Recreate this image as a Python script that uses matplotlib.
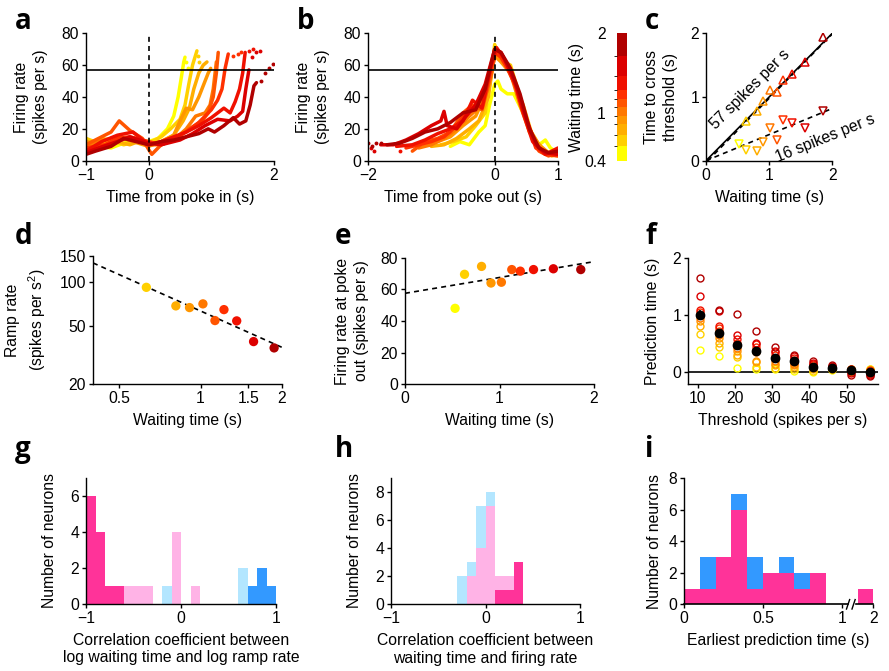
import numpy as np
import matplotlib
matplotlib.use("Agg")
import matplotlib.pyplot as plt
from matplotlib.colors import ListedColormap, BoundaryNorm
import matplotlib.colorbar as mcolorbar

FS = 11.3
plt.rcParams['font.family'] = ['Liberation Sans', 'DejaVu Sans']
plt.rcParams['mathtext.fontset'] = 'custom'
plt.rcParams['mathtext.rm'] = 'Liberation Sans'
plt.rcParams['font.size'] = FS
plt.rcParams['axes.linewidth'] = 1.0

# ---------------- data ----------------
waiting = [0.53, 0.63, 0.81, 0.91, 1.02, 1.13, 1.22, 1.36, 1.57, 1.86]
wt_colors = ['#ffff00', '#ffd000', '#ffae00', '#ff9600', '#ff7800',
             '#ff5500', '#ff3000', '#f01000', '#dc0000', '#b00000']
cbar_bounds = [0.4, 0.58, 0.72, 0.86, 0.965, 1.075, 1.175, 1.29, 1.465, 1.715, 2.0]
threshold = 57

# panel a: firing rate aligned to poke in
a_x = [
    [-1, -0.8, -0.6, -0.4, -0.2, 0, 0.15, 0.3, 0.4, 0.47, 0.52, 0.56, 0.58],
    [-1, -0.8, -0.6, -0.4, -0.2, 0, 0.2, 0.35, 0.5, 0.58, 0.64, 0.7, 0.77],
    [-1, -0.75, -0.5, -0.3, -0.1, 0, 0.2, 0.4, 0.55, 0.65, 0.72, 0.8, 0.87, 0.93],
    [-1, -0.7, -0.5, -0.25, 0, 0.2, 0.4, 0.5, 0.6, 0.7, 0.8, 0.9, 0.95, 0.99],
    [-1, -0.8, -0.5, -0.2, 0, 0.2, 0.4, 0.6, 0.75, 0.9, 0.98, 1.03, 1.08],
    [-1, -0.8, -0.6, -0.47, -0.3, -0.1, 0, 0.05, 0.2, 0.45, 0.65, 0.85, 0.95, 1.03, 1.08, 1.11],
    [-1, -0.7, -0.5, -0.3, 0, 0.2, 0.4, 0.6, 0.8, 1.0, 1.1, 1.17, 1.22, 1.27],
    [-1, -0.75, -0.5, -0.25, 0, 0.2, 0.4, 0.6, 0.8, 1.0, 1.2, 1.3, 1.38, 1.45, 1.5, 1.54],
    [-1, -0.8, -0.5, -0.3, 0, 0.2, 0.5, 0.7, 0.9, 1.1, 1.3, 1.42, 1.5, 1.55, 1.6],
    [-1, -0.85, -0.6, -0.4, -0.2, 0, 0.2, 0.4, 0.6, 0.8, 0.95, 1.05, 1.2, 1.35, 1.45, 1.55, 1.62, 1.68, 1.72],
]
a_y = [
    [12, 9, 8, 11, 13, 12, 14, 20, 28, 40, 52, 62, 65],
    [14, 11, 13, 10, 12, 11, 15, 20, 26, 35, 48, 60, 69],
    [10, 14, 12, 10, 13, 10, 12, 16, 25, 33, 45, 55, 60, 62],
    [12, 10, 15, 12, 9, 12, 16, 25, 33, 32, 40, 50, 55, 58],
    [8, 12, 15, 14, 10, 10, 13, 20, 28, 30, 35, 45, 62],
    [10, 14, 18, 25, 19, 14, 7, 4, 10, 14, 20, 25, 30, 40, 55, 68],
    [8, 10, 14, 15, 12, 10, 14, 18, 24, 32, 38, 45, 58, 67],
    [6, 12, 16, 18, 10, 12, 15, 18, 22, 27, 33, 30, 37, 45, 55, 68],
    [5, 8, 12, 15, 11, 10, 13, 17, 22, 26, 25, 28, 31, 45, 57],
    [4, 6, 9, 14, 12, 10, 12, 13, 15, 17, 20, 18, 22, 27, 23, 25, 35, 47, 49],
]
a_dot_x = [[0.6, 0.62], [0.79, 0.81], [], [], [], [],
           [1.35, 1.42, 1.47], [1.6, 1.66], [1.65, 1.72, 1.77], [1.8, 1.86, 1.92, 1.98]]
a_dot_y = [[62, 58], [66, 62], [], [], [], [],
           [66, 67, 68], [69, 70], [65, 68, 69], [50, 55, 58, 61]]

# panel b: firing rate aligned to poke out
b_x = [
    [-0.7, -0.55, -0.4, -0.25, -0.15, -0.08, 0, 0.05, 0.1, 0.2, 0.3, 0.45, 0.6, 0.7, 0.8, 0.88, 0.95, 1.0],
    [-0.85, -0.65, -0.45, -0.3, -0.15, -0.05, 0, 0.05, 0.15, 0.25, 0.4, 0.55, 0.7, 0.85, 1.0],
    [-1.0, -0.8, -0.6, -0.4, -0.25, -0.1, 0, 0.1, 0.2, 0.3, 0.45, 0.6, 0.75, 0.9, 1.0],
    [-1.1, -0.9, -0.7, -0.5, -0.3, -0.1, 0, 0.1, 0.25, 0.4, 0.55, 0.7, 0.85, 1.0],
    [-1.2, -1.0, -0.8, -0.6, -0.4, -0.2, -0.05, 0.02, 0.1, 0.25, 0.4, 0.55, 0.7, 0.85, 1.0],
    [-1.3, -1.1, -0.9, -0.7, -0.5, -0.35, -0.2, -0.05, 0.02, 0.12, 0.25, 0.4, 0.55, 0.7, 0.85, 1.0],
    [-1.4, -1.2, -1.0, -0.8, -0.6, -0.45, -0.3, -0.15, 0, 0.1, 0.2, 0.35, 0.5, 0.65, 0.8, 1.0],
    [-1.55, -1.3, -1.1, -0.9, -0.7, -0.5, -0.35, -0.2, -0.05, 0.03, 0.15, 0.3, 0.45, 0.6, 0.8, 1.0],
    [-1.8, -1.6, -1.4, -1.2, -1.0, -0.85, -0.8, -0.75, -0.6, -0.45, -0.3, -0.15, 0, 0.1, 0.2, 0.35, 0.5, 0.65, 0.8, 1.0],
    [-1.7, -1.5, -1.3, -1.1, -0.9, -0.7, -0.5, -0.3, -0.15, 0, 0.1, 0.25, 0.4, 0.55, 0.7, 0.85, 1.0],
]
b_y = [
    [9, 12, 10, 18, 22, 35, 48, 50, 45, 42, 42, 30, 16, 10, 13, 8, 6, 5],
    [10, 12, 15, 22, 30, 55, 73, 68, 62, 60, 40, 18, 8, 4, 3],
    [9, 10, 14, 20, 25, 40, 68, 65, 58, 50, 35, 15, 8, 3, 4],
    [10, 12, 15, 22, 28, 45, 66, 62, 55, 40, 20, 10, 5, 6],
    [8, 10, 14, 20, 28, 35, 60, 70, 64, 55, 35, 18, 8, 4, 7],
    [6, 12, 14, 18, 30, 35, 32, 55, 70, 66, 56, 38, 20, 6, 3, 5],
    [8, 10, 12, 15, 22, 30, 35, 45, 68, 65, 58, 45, 25, 8, 4, 3],
    [9, 10, 13, 17, 20, 25, 38, 33, 60, 71, 64, 52, 30, 12, 4, 8],
    [10, 10, 13, 17, 22, 25, 31, 22, 20, 28, 35, 48, 70, 68, 60, 46, 26, 10, 5, 4],
    [10, 11, 14, 18, 20, 24, 30, 32, 45, 70, 68, 58, 42, 20, 8, 5, 6],
]
b_dot_x = [[], [], [], [], [], [], [], [-1.5], [-1.95, -1.9], [-2.0, -1.93, -1.87, -1.8]]
b_dot_y = [[], [], [], [], [], [], [], [6], [8, 6], [11, 9, 11, 11]]

# panel c: time to cross threshold vs waiting time
c_hi = [None, 0.62, 0.78, 0.93, 1.11, 1.08, 1.27, 1.36, 1.55, 1.94]
c_lo = [0.26, 0.17, 0.16, 0.30, 0.51, 0.32, 0.64, 0.59, 0.51, 0.78]
c_fit_hi_x, c_fit_hi_y = [0.03, 2.0], [0.0, 1.99]
c_fit_lo_x, c_fit_lo_y = [0.0, 2.0], [0.0, 0.82]

# panel d: ramp rate (log-log)
d_wait = [0.63, 0.81, 0.91, 1.02, 1.13, 1.22, 1.36, 1.57, 1.87]
d_rate = [91.6, 68.4, 66.6, 70.6, 54.3, 64.5, 54.0, 39.0, 35.3]
d_colors = wt_colors[1:]
d_fit_x, d_fit_y = [0.4, 2.0], [134.5, 35.6]

# panel e: firing rate at poke out
e_rate = [48, 69.5, 74.5, 64, 64.5, 72.5, 71.5, 72.5, 73, 72.5]
e_fit_x, e_fit_y = [0.0, 2.0], [57.5, 77.5]

# panel f: prediction time vs threshold
f_thr = [10.5, 15.6, 20.6, 25.7, 30.8, 35.9, 41.0, 46.0, 51.1, 56.2]
f_vals = [
    [0.40, 0.68, 0.82, 0.90, 0.95, 1.00, 1.05, 1.10, 1.33, 1.66],
    [0.28, 0.45, 0.52, 0.60, 0.65, 0.72, 0.78, 0.82, 1.08, 1.10],
    [0.08, 0.27, 0.30, 0.38, 0.42, 0.48, 0.52, 0.58, 0.65, 1.02],
    [0.05, 0.10, 0.18, 0.20, 0.35, 0.40, 0.45, 0.50, 0.52, 0.72],
    [0.05, 0.08, 0.12, 0.15, 0.20, 0.25, 0.30, 0.35, 0.38, 0.45],
    [0.03, 0.06, 0.10, 0.12, 0.15, 0.18, 0.22, 0.25, 0.28, 0.31],
    [0.00, 0.03, 0.05, 0.07, 0.09, 0.10, 0.12, 0.14, 0.17, 0.19],
    [0.04, 0.05, 0.06, 0.07, 0.08, 0.08, 0.09, 0.10, 0.11, 0.12],
    [0.06, 0.05, 0.04, 0.03, 0.02, 0.00, 0.05, 0.06, -0.02, -0.05],
    [0.06, 0.05, 0.03, 0.02, 0.00, -0.02, 0.04, -0.03, -0.05, -0.06],
]
f_mean = [1.00, 0.69, 0.48, 0.37, 0.25, 0.19, 0.10, 0.08, 0.04, 0.01]
f_sem = [0.09, 0.07, 0.07, 0.06, 0.04, 0.03, 0.02, 0.015, 0.015, 0.015]

# histograms g, h (bins of 0.1 from -1 to 1)
bin_left = [-1.0, -0.9, -0.8, -0.7, -0.6, -0.5, -0.4, -0.3, -0.2, -0.1,
            0.0, 0.1, 0.2, 0.3, 0.4, 0.5, 0.6, 0.7, 0.8, 0.9]
g_hot = [6, 4, 1, 1, 0, 0, 0, 0, 0, 0, 0, 0, 0, 0, 0, 0, 0, 0, 0, 0]
g_lpink = [0, 0, 0, 0, 1, 1, 1, 0, 0, 4, 0, 1, 0, 0, 0, 0, 0, 0, 0, 0]
g_lblue = [0, 0, 0, 0, 0, 0, 0, 0, 1, 0, 0, 0, 0, 0, 0, 0, 2, 0, 0, 0]
g_blue = [0, 0, 0, 0, 0, 0, 0, 0, 0, 0, 0, 0, 0, 0, 0, 0, 0, 1, 2, 1]
h_hot = [0, 0, 0, 0, 0, 0, 0, 0, 0, 0, 0, 1, 1, 3, 0, 0, 0, 0, 0, 0]
h_lpink = [0, 0, 0, 0, 0, 0, 0, 0, 2, 4, 7, 1, 1, 0, 0, 0, 0, 0, 0, 0]
h_lblue = [0, 0, 0, 0, 0, 0, 0, 2, 1, 3, 1, 0, 0, 0, 0, 0, 0, 0, 0, 0]
h_blue = [0] * 20

# histogram i (earliest prediction time)
i_left = [0.0, 0.1, 0.2, 0.3, 0.4, 0.5, 0.6, 0.7, 0.8, 1.9]
i_pink = [1, 1, 3, 6, 1, 2, 2, 1, 2, 1]
i_blue = [0, 2, 0, 1, 2, 0, 1, 1, 0, 0]

hist_colors = ['#ff3399', '#ffb3e6', '#b3e6ff', '#3399ff']

# ---------------- figure ----------------
W, H = 889, 671
fig = plt.figure(figsize=(W / 100, H / 100), dpi=100)


def add_ax(l, t, r, b):
    return fig.add_axes([l / W, 1 - b / H, (r - l) / W, (b - t) / H])


def style(ax):
    for s in ['top', 'right']:
        ax.spines[s].set_visible(False)
    ax.tick_params(direction='out', length=3, width=1, labelsize=FS, pad=2)


def letter(x, y, s):
    fig.text(x / W, 1 - y / H, s, fontsize=20, fontweight='bold',
             family='Open Sans', ha='left', va='baseline')


def ylab(ax, text, x):
    ax.set_ylabel(text, linespacing=1.35)
    ax.yaxis.set_label_coords(x, 0.5)


# a
ax = add_ax(86, 33.3, 274, 160.7)
style(ax)
for i in range(len(waiting)):
    ax.plot(a_x[i], a_y[i], color=wt_colors[i], lw=2.5, solid_capstyle='round')
    ax.plot(a_dot_x[i], a_dot_y[i], 'o', color=wt_colors[i], ms=2.8, mew=0)
ax.axhline(threshold, color='k', lw=1.2)
ax.plot([0, 0], [0, 80], color='k', ls='--', lw=1.2, dashes=(3, 2.5))
ax.set_xlim(-1, 2)
ax.set_ylim(0, 80)
ax.set_xticks([-1, 0, 2])
ax.set_yticks([0, 20, 40, 60, 80])
ax.set_xlabel('Time from poke in (s)', labelpad=5)
ylab(ax, 'Firing rate\n(spikes per s)', -0.2)
letter(15, 29, 'a')

# b
ax = add_ax(368, 33.3, 558, 160.7)
style(ax)
for i in range(len(waiting)):
    ax.plot(b_x[i], b_y[i], color=wt_colors[i], lw=2.5, solid_capstyle='round')
    ax.plot(b_dot_x[i], b_dot_y[i], 'o', color=wt_colors[i], ms=2.8, mew=0)
ax.axhline(threshold, color='k', lw=1.2)
ax.plot([0, 0], [0, 80], color='k', ls='--', lw=1.2, dashes=(3, 2.5))
ax.set_xlim(-2, 1)
ax.set_ylim(0, 80)
ax.set_xticks([-2, 0, 1])
ax.set_yticks([0, 20, 40, 60, 80])
ax.set_xlabel('Time from poke out (s)', labelpad=5)
ylab(ax, 'Firing rate\n(spikes per s)', -0.2)
letter(297, 29, 'b')

# colorbar
cax = add_ax(617, 33.3, 627, 160.7)
cmap = ListedColormap(wt_colors)
norm = BoundaryNorm(cbar_bounds, cmap.N)
cb = mcolorbar.ColorbarBase(cax, cmap=cmap, norm=norm, spacing='proportional',
                            orientation='vertical')
cb.outline.set_visible(False)
cb.set_ticks([0.4, 1, 2])
cb.set_ticklabels(['0.4', '1', '2'])
cax.yaxis.set_ticks_position('left')
cax.yaxis.set_label_position('left')
cax.tick_params(length=0, pad=8, labelsize=FS)
cax.set_ylabel('Waiting time (s)')
cax.yaxis.set_label_coords(-3.3, 0.5)

# c
ax = add_ax(706, 33.3, 832.3, 160.7)
style(ax)
ax.plot([0, 2], [0, 2], color='k', lw=1.2)
ax.plot(c_fit_hi_x, c_fit_hi_y, color='k', ls='--', lw=1.2, dashes=(3, 2.5))
ax.plot(c_fit_lo_x, c_fit_lo_y, color='k', ls='--', lw=1.2, dashes=(3, 2.5))
for i in range(len(waiting)):
    if c_hi[i] is not None:
        ax.plot(waiting[i], c_hi[i], '^', mfc='none', mec=wt_colors[i], ms=6, mew=1.1)
    ax.plot(waiting[i], c_lo[i], 'v', mfc='none', mec=wt_colors[i], ms=6, mew=1.1)
ax.text(0.7, 1.12, '57 spikes per s', rotation=45, ha='center', va='center')
ax.text(1.88, 0.36, '16 spikes per s', rotation=22, ha='center', va='center')
ax.set_xlim(0, 2)
ax.set_ylim(0, 2)
ax.set_xticks([0, 1, 2])
ax.set_yticks([0, 1, 2])
ax.set_xlabel('Waiting time (s)', labelpad=5)
ylab(ax, 'Time to cross\nthreshold (s)', -0.22)
letter(645, 29, 'c')

# d
ax = add_ax(93, 256, 282, 384)
style(ax)
ax.set_xscale('log')
ax.set_yscale('log')
ax.plot(d_fit_x, d_fit_y, color='k', ls='--', lw=1.2, dashes=(3, 2.5))
ax.scatter(d_wait, d_rate, c=d_colors, s=45, zorder=3, linewidths=0)
ax.set_xlim(0.4, 2)
ax.set_ylim(20, 150)
ax.set_xticks([0.5, 1, 1.5, 2])
ax.set_xticklabels(['0.5', '1', '1.5', '2'])
ax.set_yticks([20, 50, 100, 150])
ax.set_yticklabels(['20', '50', '100', '150'])
ax.xaxis.set_minor_locator(plt.NullLocator())
ax.yaxis.set_minor_locator(plt.NullLocator())
ax.set_xlabel('Waiting time (s)', labelpad=5)
ylab(ax, 'Ramp rate\n(spikes per s$^{2}$)', -0.238)
letter(15, 244, 'd')

# e
ax = add_ax(405, 257.7, 594, 384.3)
style(ax)
ax.plot(e_fit_x, e_fit_y, color='k', ls='--', lw=1.2, dashes=(3, 2.5))
ax.scatter(waiting, e_rate, c=wt_colors, s=45, zorder=3, linewidths=0)
ax.set_xlim(0, 2)
ax.set_ylim(0, 80)
ax.set_xticks([0, 1, 2])
ax.set_yticks([0, 20, 40, 60, 80])
ax.set_xlabel('Waiting time (s)', labelpad=5)
ylab(ax, 'Firing rate at poke\nout (spikes per s)', -0.19)
letter(335, 244, 'e')

# f
ax = add_ax(688, 258.3, 877.7, 384.3)
style(ax)
ax.axhline(0, color='k', lw=1.2, zorder=1)
for j, thr in enumerate(f_thr):
    for i in range(len(waiting)):
        ax.plot(thr, f_vals[j][i], 'o', mfc='none', mec=wt_colors[i], ms=5, mew=1)
ax.errorbar(f_thr, f_mean, yerr=f_sem, fmt='o', color='k', ms=6, elinewidth=1.2,
            capsize=0, zorder=4)
ax.set_xlim(7.4, 58.3)
ax.set_ylim(-0.21, 2)
ax.set_xticks([10, 20, 30, 40, 50])
ax.set_yticks([0, 1, 2])
ax.set_xlabel('Threshold (spikes per s)', labelpad=5)
ylab(ax, 'Prediction time (s)', -0.148)
letter(645, 244, 'f')


def stacked(ax, lefts, layers, colors):
    bottom = np.zeros(len(lefts))
    for vals, col in zip(layers, colors):
        ax.bar(lefts, vals, width=0.1, align='edge', bottom=bottom, color=col,
               linewidth=0)
        bottom = bottom + np.array(vals)


# g
ax = add_ax(86, 477.7, 276.3, 604)
style(ax)
stacked(ax, bin_left, [g_hot, g_lpink, g_lblue, g_blue], hist_colors)
ax.set_xlim(-1, 1)
ax.set_ylim(0, 7)
ax.set_xticks([-1, 0, 1])
ax.set_yticks([0, 2, 4, 6])
ax.set_xlabel('Correlation coefficient between\nlog waiting time and log ramp rate',
              labelpad=5)
ylab(ax, 'Number of neurons', -0.154)
letter(15, 457, 'g')

# h
ax = add_ax(391, 477.7, 580, 604.3)
style(ax)
stacked(ax, bin_left, [h_hot, h_lpink, h_lblue, h_blue], hist_colors)
ax.set_xlim(-1, 1)
ax.set_ylim(0, 9)
ax.set_xticks([-1, 0, 1])
ax.set_yticks([0, 2, 4, 6, 8])
ax.set_xlabel('Correlation coefficient between\nwaiting time and firing rate',
              labelpad=5)
ylab(ax, 'Number of neurons', -0.155)
letter(335, 457, 'h')

# i (broken x axis: 1.9-2 shown right after 1)
ax = add_ax(684, 478.3, 873.3, 604.3)
style(ax)
i_pos = [v - 0.8 if v > 1 else v for v in i_left]
stacked(ax, i_pos, [i_pink, i_blue], [hist_colors[0], hist_colors[3]])
ax.spines['bottom'].set_visible(False)
ax.plot([0, 1.04], [0, 0], color='k', lw=1.2, clip_on=False)
ax.plot([1.09, 1.2], [0, 0], color='k', lw=1.2, clip_on=False)
for bx in [1.04, 1.075]:
    ax.plot([bx - 0.01, bx + 0.01], [-0.3, 0.3], color='k', lw=1, clip_on=False)
ax.set_xlim(0, 1.2)
ax.set_ylim(0, 8)
ax.set_xticks([0, 0.5, 1, 1.2])
ax.set_xticklabels(['0', '0.5', '1', '2'])
ax.set_yticks([0, 2, 4, 6, 8])
ax.set_xlabel('Earliest prediction time (s)', labelpad=5)
ylab(ax, 'Number of neurons', -0.118)
letter(645, 457, 'i')

fig.savefig('out.png', dpi=100)
